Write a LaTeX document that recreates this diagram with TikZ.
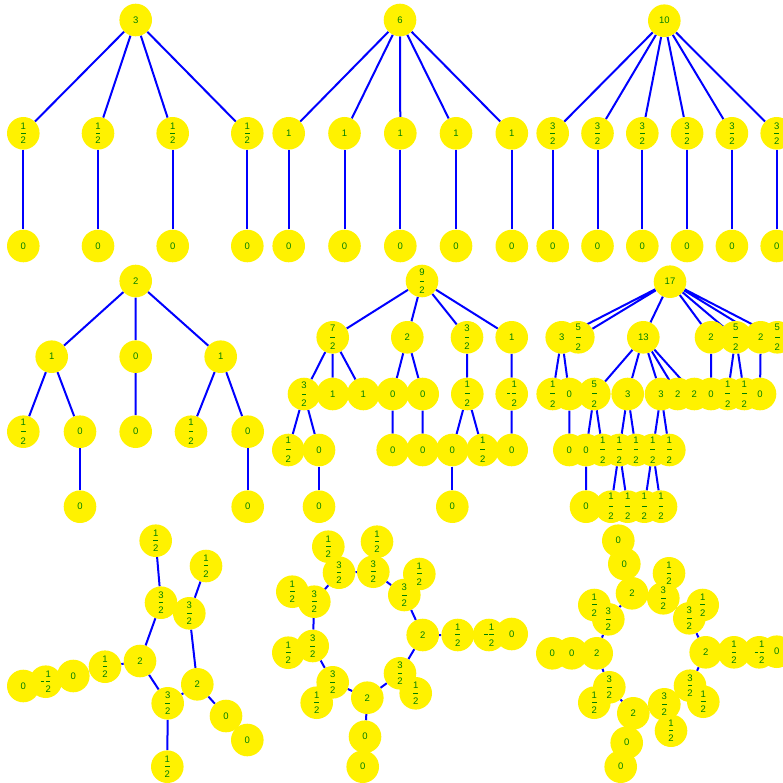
\documentclass[tikz,border=0pt]{standalone}
\usepackage{fontspec}
\setmainfont{Liberation Sans}

\definecolor{labelgreen}{RGB}{0,128,0}
\newcommand{\fr}[2]{#1\\\rule[3.2pt]{4.5pt}{0.6pt}\\#2}
\newcommand{\nfr}[2]{\hphantom{\rule{3.5pt}{0pt}}\kern1.5pt#1\\\rule[3.2pt]{3.5pt}{0.7pt}\kern1.5pt\rule[3.2pt]{4.5pt}{0.6pt}\\\hphantom{\rule{3.5pt}{0pt}}\kern1.5pt#2}

\pgfdeclarelayer{edges}
\pgfdeclarelayer{discs}
\pgfsetlayers{edges,discs,main}

\begin{document}
\begin{tikzpicture}[x=1pt, y=-1pt,
  vtx/.style={circle, minimum size=32.6pt, inner sep=0pt, align=center, text=labelgreen,
    font=\fontsize{9.5}{7.4}\selectfont,
    append after command={\pgfextra{\begin{pgfonlayer}{discs}\fill[yellow] (\tikzlastnode.center) circle (16.3pt);\end{pgfonlayer}}}},
  tall/.style={font=\fontsize{9.5}{9.3}\selectfont},
  taller/.style={font=\fontsize{9.5}{10}\selectfont},
  low/.style={font=\fontsize{9.5}{7.8}\selectfont},
  link/.style={blue, line width=2pt}]

  \useasboundingbox (0,0) rectangle (783,783);

  % First tree
  \node[vtx] (A0) at (135.7,20) {3};
  \node[vtx] (A1) at (23.3,133.3) {\fr12};
  \node[vtx] (A2) at (98,133.3) {\fr12};
  \node[vtx] (A3) at (172.7,133.3) {\fr12};
  \node[vtx] (A4) at (247.3,133.3) {\fr12};
  \node[vtx] (A5) at (23.3,246) {0};
  \node[vtx] (A6) at (98,246) {0};
  \node[vtx] (A7) at (172.7,246) {0};
  \node[vtx] (A8) at (247.3,246) {0};

  % Second tree
  \node[vtx] (B0) at (400,20) {6};
  \node[vtx] (B1) at (288.7,133.3) {1};
  \node[vtx] (B2) at (344.5,133.3) {1};
  \node[vtx] (B3) at (400.3,133.3) {1};
  \node[vtx] (B4) at (456,133.3) {1};
  \node[vtx] (B5) at (511.8,133.3) {1};
  \node[vtx] (B6) at (288.7,246) {0};
  \node[vtx] (B7) at (344.5,246) {0};
  \node[vtx] (B8) at (400.3,246) {0};
  \node[vtx] (B9) at (456,246) {0};
  \node[vtx] (B10) at (511.8,246) {0};

  % Third tree
  \node[vtx] (C0) at (664.3,20.7) {10};
  \node[vtx] (C1) at (552.7,133.3) {\fr32};
  \node[vtx] (C2) at (597.5,133.3) {\fr32};
  \node[vtx] (C3) at (642.3,133.3) {\fr32};
  \node[vtx] (C4) at (687.1,133.3) {\fr32};
  \node[vtx] (C5) at (731.9,133.3) {\fr32};
  \node[vtx] (C6) at (776.7,133.3) {\fr32};
  \node[vtx] (C7) at (552.7,246) {0};
  \node[vtx] (C8) at (597.5,246) {0};
  \node[vtx] (C9) at (642.3,246) {0};
  \node[vtx] (C10) at (687.1,246) {0};
  \node[vtx] (C11) at (731.9,246) {0};
  \node[vtx] (C12) at (776.7,246) {0};

  % Fourth tree
  \node[vtx,tall] (D0) at (135.7,281) {2};
  \node[vtx,tall] (D1) at (51.7,356.7) {1};
  \node[vtx,tall] (D2) at (135.7,356.7) {0};
  \node[vtx,tall] (D3) at (220.7,356.7) {1};
  \node[vtx,tall] (D4) at (23.3,431.7) {\fr12};
  \node[vtx,tall] (D5) at (80,431.7) {0};
  \node[vtx,tall] (D6) at (135.7,431.7) {0};
  \node[vtx,tall] (D7) at (191,431.7) {\fr12};
  \node[vtx,tall] (D8) at (247.7,431.7) {0};
  \node[vtx,tall] (D9) at (80,506.7) {0};
  \node[vtx,tall] (D10) at (247.7,506.7) {0};

  % Fifth tree
  \node[vtx,tall] (E0) at (422,281) {\fr92};
  \node[vtx,tall] (E1) at (332.7,337.3) {\fr72};
  \node[vtx,tall] (E2) at (407.3,337.3) {2};
  \node[vtx,tall] (E3) at (467,337.3) {\fr32};
  \node[vtx,tall] (E4) at (511.7,337.3) {1};
  \node[vtx,tall] (E5) at (304,394) {\fr32};
  \node[vtx,tall] (E6) at (332.7,394) {1};
  \node[vtx,tall] (E7) at (363.3,394) {1};
  \node[vtx,tall] (E8) at (392.7,394) {0};
  \node[vtx,tall] (E9) at (422.7,394) {0};
  \node[vtx,tall] (E10) at (467.3,394) {\fr12};
  \node[vtx,tall] (E11) at (511.7,394) {\nfr12};
  \node[vtx,tall] (E12) at (288.3,450) {\fr12};
  \node[vtx,tall] (E13) at (319,450) {0};
  \node[vtx,tall] (E14) at (392.7,450) {0};
  \node[vtx,tall] (E15) at (422.7,450) {0};
  \node[vtx,tall] (E16) at (452.3,450) {0};
  \node[vtx,tall] (E17) at (482.7,450) {\fr12};
  \node[vtx,tall] (E18) at (511.7,450) {0};
  \node[vtx,tall] (E19) at (319,506.7) {0};
  \node[vtx,tall] (E20) at (452.3,506.7) {0};

  % Sixth tree
  \node[vtx,taller] (F0) at (670,281.7) {17};
  \node[vtx,taller] (F1) at (561.7,337.3) {3};
  \node[vtx,taller] (F2) at (578.3,337.3) {\fr52};
  \node[vtx,taller] (F3) at (643.3,337.3) {13};
  \node[vtx,taller] (F4) at (711,337.3) {2};
  \node[vtx,taller] (F5) at (735.7,337.3) {\fr52};
  \node[vtx,taller] (F6) at (760.7,337.3) {2};
  \node[vtx,taller] (F7) at (777.3,337.3) {\fr52};
  \node[vtx,taller] (F8) at (552.7,394) {\fr12};
  \node[vtx,taller] (F9) at (569.3,394) {0};
  \node[vtx,taller] (F10) at (594.3,394) {\fr52};
  \node[vtx,taller] (F11) at (627.7,394) {3};
  \node[vtx,taller] (F12) at (661,394) {3};
  \node[vtx,taller] (F13) at (677.7,394) {2};
  \node[vtx,taller] (F14) at (694.3,394) {2};
  \node[vtx,taller] (F15) at (711,394) {0};
  \node[vtx,taller] (F16) at (727.7,394) {\fr12};
  \node[vtx,taller] (F17) at (744.3,394) {\fr12};
  \node[vtx,taller] (F18) at (760,394) {0};
  \node[vtx,taller] (F19) at (569.3,450) {0};
  \node[vtx,taller] (F20) at (586,450) {0};
  \node[vtx,taller] (F21) at (602.7,450) {\fr12};
  \node[vtx,taller] (F22) at (619.3,450) {\fr12};
  \node[vtx,taller] (F23) at (636,450) {\fr12};
  \node[vtx,taller] (F24) at (652.7,450) {\fr12};
  \node[vtx,taller] (F25) at (669.3,450) {\fr12};
  \node[vtx,taller] (F26) at (586,506.7) {0};
  \node[vtx,taller] (F27) at (611,506.7) {\fr12};
  \node[vtx,taller] (F28) at (627.7,506.7) {\fr12};
  \node[vtx,taller] (F29) at (644.3,506.7) {\fr12};
  \node[vtx,taller] (F30) at (661,506.7) {\fr12};

  % Pentagon graph
  \node[vtx,low] (G1) at (155.7,540.7) {\fr12};
  \node[vtx,low] (G2) at (206,566) {\fr12};
  \node[vtx,low] (G3) at (161,602.7) {\fr32};
  \node[vtx,low] (G4) at (189.3,613.3) {\fr32};
  \node[vtx,low] (G5) at (140,661) {2};
  \node[vtx,low] (G6) at (105,666.7) {\fr12};
  \node[vtx,low] (G7) at (73.3,676) {0};
  \node[vtx,low] (G8) at (45.7,681.7) {\nfr12};
  \node[vtx,low] (G9) at (23.3,686) {0};
  \node[vtx,low] (G10) at (197.3,684.3) {2};
  \node[vtx,low] (G11) at (167.7,703.3) {\fr32};
  \node[vtx,low] (G12) at (226,716) {0};
  \node[vtx,low] (G13) at (247.3,740) {0};
  \node[vtx,low] (G14) at (167.3,766.7) {\fr12};

  % Nonagon graph
  \node[vtx,low] (H1) at (328.3,546.7) {\fr12};
  \node[vtx,low] (H2) at (377,541.7) {\fr12};
  \node[vtx,low] (H3) at (339,572.7) {\fr32};
  \node[vtx,low] (H4) at (373.3,571.7) {\fr32};
  \node[vtx,low] (H5) at (419.3,574) {\fr12};
  \node[vtx,low] (H6) at (292.3,591.7) {\fr12};
  \node[vtx,low] (H7) at (314.3,601.7) {\fr32};
  \node[vtx,low] (H8) at (404.3,595) {\fr32};
  \node[vtx,low] (H9) at (422.7,635) {2};
  \node[vtx,low] (H10) at (457.7,635) {\fr12};
  \node[vtx,low] (H11) at (489,635) {\nfr12};
  \node[vtx,low] (H12) at (511.7,634) {0};
  \node[vtx,low] (H13) at (312.7,646) {\fr32};
  \node[vtx,low] (H14) at (288.3,652.7) {\fr12};
  \node[vtx,low] (H15) at (400,673.3) {\fr32};
  \node[vtx,low] (H16) at (415.7,693.3) {\fr12};
  \node[vtx,low] (H17) at (332.7,682.3) {\fr32};
  \node[vtx,low] (H18) at (316.7,702.7) {\fr12};
  \node[vtx,low] (H19) at (367.3,697.7) {2};
  \node[vtx,low] (H20) at (365,736.7) {0};
  \node[vtx,low] (H21) at (362.7,766.7) {0};

  % Decagon graph
  \node[vtx,low] (K1) at (618.3,540.7) {0};
  \node[vtx,low] (K2) at (624.3,564) {0};
  \node[vtx,low] (K3) at (632,593.3) {2};
  \node[vtx,low] (K4) at (669,573.3) {\fr12};
  \node[vtx,low] (K5) at (663.3,598.3) {\fr32};
  \node[vtx,low] (K6) at (702.7,605) {\fr12};
  \node[vtx,low] (K7) at (689.3,618.3) {\fr32};
  \node[vtx,low] (K8) at (594.3,605) {\fr12};
  \node[vtx,low] (K9) at (608.3,619.3) {\fr32};
  \node[vtx,low] (K10) at (552.3,653.3) {0};
  \node[vtx,low] (K11) at (571.7,653.3) {0};
  \node[vtx,low] (K12) at (596.7,653.3) {2};
  \node[vtx,low] (K13) at (705.7,652.3) {2};
  \node[vtx,low] (K14) at (734,652.3) {\fr12};
  \node[vtx,low] (K15) at (759.3,652.3) {\nfr12};
  \node[vtx,low] (K16) at (776.7,651.7) {0};
  \node[vtx,low] (K17) at (609.3,687.3) {\fr32};
  \node[vtx,low] (K18) at (594.3,702.7) {\fr12};
  \node[vtx,low] (K19) at (690,685.7) {\fr32};
  \node[vtx,low] (K20) at (703.3,701.7) {\fr12};
  \node[vtx,low] (K21) at (633.3,713.3) {2};
  \node[vtx,low] (K22) at (664.3,704.3) {\fr32};
  \node[vtx,low] (K23) at (671,730.7) {\fr12};
  \node[vtx,low] (K24) at (626.7,742.7) {0};
  \node[vtx,low] (K25) at (620.7,766.7) {0};

  % Draw the edges behind the vertices
  \begin{pgfonlayer}{edges}
  \draw[link] (A0) -- (A1) (A0) -- (A2) (A0) -- (A3) (A0) -- (A4);
  \draw[link] (A1) -- (A5) (A2) -- (A6) (A3) -- (A7) (A4) -- (A8);
  \draw[link] (B0) -- (B1) (B0) -- (B2) (B0) -- (B3) (B0) -- (B4) (B0) -- (B5);
  \draw[link] (B1) -- (B6) (B2) -- (B7) (B3) -- (B8) (B4) -- (B9) (B5) -- (B10);
  \draw[link] (C0) -- (C1) (C0) -- (C2) (C0) -- (C3) (C0) -- (C4) (C0) -- (C5) (C0) -- (C6);
  \draw[link] (C1) -- (C7) (C2) -- (C8) (C3) -- (C9) (C4) -- (C10) (C5) -- (C11) (C6) -- (C12);
  \draw[link] (D0) -- (D1) (D0) -- (D2) (D0) -- (D3);
  \draw[link] (D1) -- (D4) (D1) -- (D5) (D2) -- (D6) (D3) -- (D7) (D3) -- (D8);
  \draw[link] (D5) -- (D9) (D8) -- (D10);
  \draw[link] (E0) -- (E1) (E0) -- (E2) (E0) -- (E3) (E0) -- (E4);
  \draw[link] (E1) -- (E5) (E1) -- (E6) (E1) -- (E7) (E2) -- (E8) (E2) -- (E9);
  \draw[link] (E3) -- (E10) (E4) -- (E11);
  \draw[link] (E5) -- (E12) (E5) -- (E13) (E8) -- (E14) (E9) -- (E15);
  \draw[link] (E10) -- (E16) (E10) -- (E17) (E11) -- (E18);
  \draw[link] (E13) -- (E19) (E16) -- (E20);
  \draw[link] (F0) -- (F1) (F0) -- (F2) (F0) -- (F3) (F0) -- (F4) (F0) -- (F5) (F0) -- (F6) (F0) -- (F7);
  \draw[link] (F1) -- (F8) (F1) -- (F9);
  \draw[link] (F3) -- (F10) (F3) -- (F11) (F3) -- (F12) (F3) -- (F13) (F3) -- (F14);
  \draw[link] (F4) -- (F15) (F5) -- (F16) (F5) -- (F17) (F6) -- (F18);
  \draw[link] (F9) -- (F19) (F10) -- (F20) (F10) -- (F21);
  \draw[link] (F11) -- (F22) (F11) -- (F23) (F12) -- (F24) (F12) -- (F25);
  \draw[link] (F20) -- (F26) (F22) -- (F27) (F22) -- (F28) (F24) -- (F29) (F24) -- (F30);
  \draw[link] (G3) -- (G4) (G4) -- (G10) (G10) -- (G11) (G11) -- (G5) (G5) -- (G3);
  \draw[link] (G1) -- (G3) (G2) -- (G4) (G11) -- (G14) (G10) -- (G12) (G12) -- (G13);
  \draw[link] (G5) -- (G6) (G6) -- (G7) (G7) -- (G8) (G8) -- (G9);
  \draw[link] (H3) -- (H4) (H4) -- (H8) (H8) -- (H9) (H9) -- (H15) (H15) -- (H19);
  \draw[link] (H19) -- (H17) (H17) -- (H13) (H13) -- (H7) (H7) -- (H3);
  \draw[link] (H1) -- (H3) (H2) -- (H4) (H5) -- (H8) (H6) -- (H7) (H14) -- (H13) (H18) -- (H17) (H16) -- (H15);
  \draw[link] (H9) -- (H10) (H10) -- (H11) (H11) -- (H12) (H19) -- (H20) (H20) -- (H21);
  \draw[link] (K3) -- (K5) (K5) -- (K7) (K7) -- (K13) (K13) -- (K19) (K19) -- (K22);
  \draw[link] (K22) -- (K21) (K21) -- (K17) (K17) -- (K12) (K12) -- (K9) (K9) -- (K3);
  \draw[link] (K4) -- (K5) (K6) -- (K7) (K8) -- (K9) (K18) -- (K17) (K20) -- (K19) (K23) -- (K22);
  \draw[link] (K3) -- (K2) (K2) -- (K1) (K12) -- (K11) (K11) -- (K10) (K21) -- (K24) (K24) -- (K25);
  \draw[link] (K13) -- (K14) (K14) -- (K15) (K15) -- (K16);
  \end{pgfonlayer}

\end{tikzpicture}
\end{document}
